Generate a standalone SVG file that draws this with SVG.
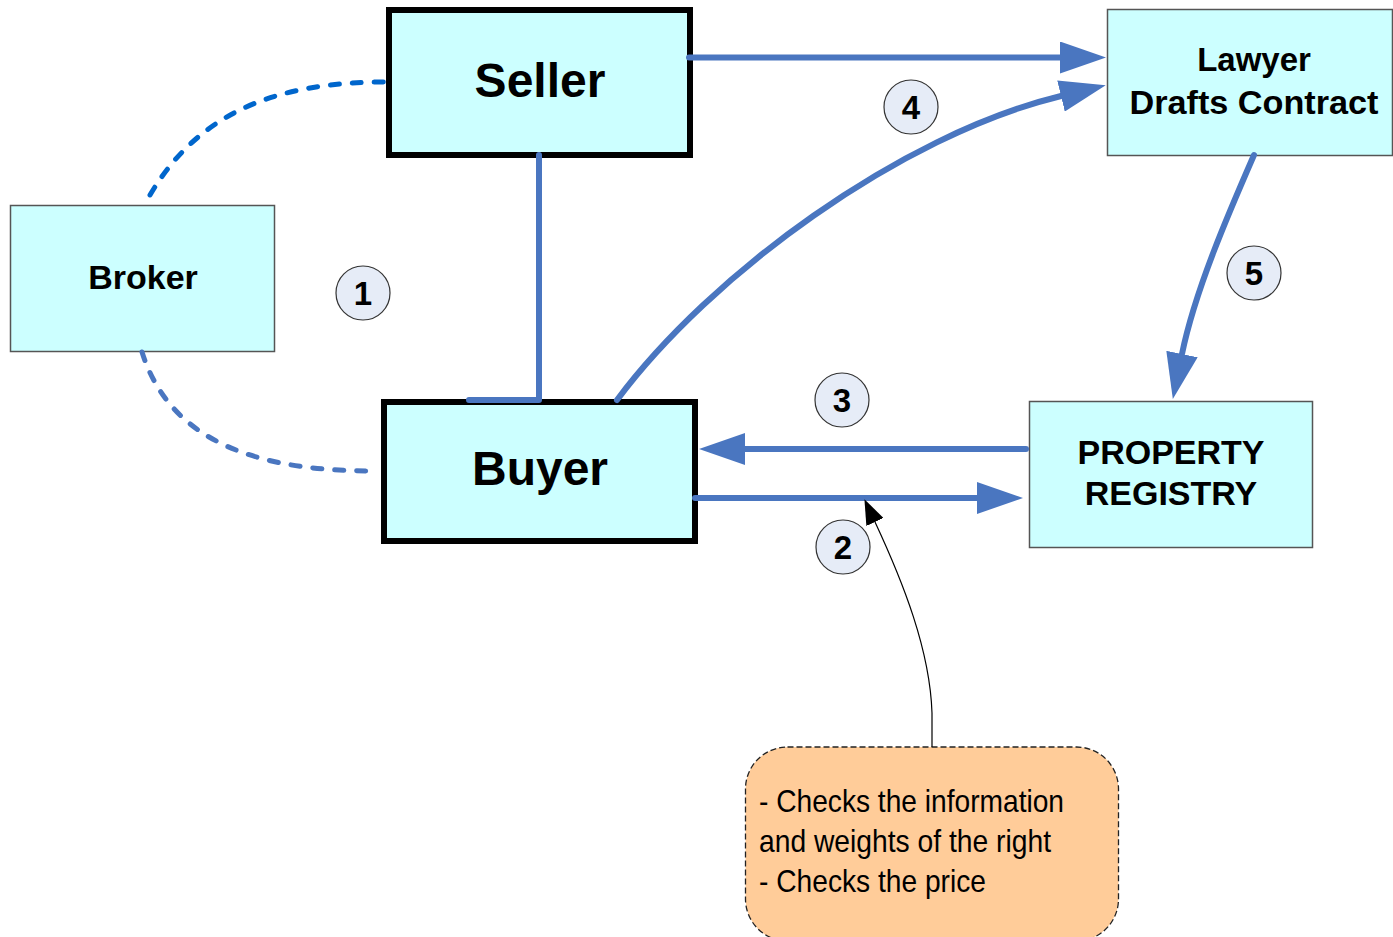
<svg xmlns="http://www.w3.org/2000/svg" width="1393" height="937" viewBox="0 0 1393 937">
<style>
.box{fill:#ccffff;stroke:#000;stroke-width:6}
.thin{fill:#ccffff;stroke:#555;stroke-width:1.5}
.lbl{font-family:"Liberation Sans",Arial,sans-serif;font-weight:bold;fill:#000;text-anchor:middle}
.num{fill:#e6ecf7;stroke:#333;stroke-width:1.2}
.con{fill:none;stroke:#4a76c0;stroke-width:6;stroke-linecap:round;stroke-linejoin:round}
.dot{fill:none;stroke-width:5;stroke-linecap:round;stroke-dasharray:9 13}
.note{font-family:"Liberation Sans",Arial,sans-serif;font-size:32px;fill:#000}
</style>
<defs>
<marker id="ah" markerUnits="userSpaceOnUse" markerWidth="46" markerHeight="32" viewBox="0 0 46 32" refX="0" refY="16" orient="auto">
<path d="M0,0 L46,16 L0,32 z" fill="#4a76c0"/>
</marker>
<marker id="bh" markerUnits="userSpaceOnUse" markerWidth="25" markerHeight="19" viewBox="0 0 25 19" refX="0" refY="9.5" orient="auto">
<path d="M0,0 L25,9.5 L0,19 z" fill="#000"/>
</marker>
</defs>
<rect width="1393" height="937" fill="#fff"/>
<g id="seller">
<rect class="box" x="389" y="10" width="301" height="145"/>
<text class="lbl" x="540" y="97" font-size="48">Seller</text>
</g>
<g id="buyer">
<rect class="box" x="384" y="402" width="311" height="139"/>
<text class="lbl" x="540" y="485" font-size="48">Buyer</text>
</g>
<g id="broker">
<rect class="thin" x="10.5" y="205.5" width="264" height="146"/>
<text class="lbl" x="143" y="289" font-size="34">Broker</text>
</g>
<g id="lawyer">
<rect class="thin" x="1107.5" y="9.5" width="285" height="146"/>
<text class="lbl" x="1254" y="71" font-size="33">Lawyer</text>
<text class="lbl" x="1254" y="114" font-size="33" textLength="249" lengthAdjust="spacingAndGlyphs">Drafts Contract</text>
</g>
<g id="registry">
<rect class="thin" x="1029.5" y="401.5" width="283" height="146"/>
<text class="lbl" x="1171" y="464" font-size="34">PROPERTY</text>
<text class="lbl" x="1171" y="505" font-size="34">REGISTRY</text>
</g>
<g id="note">
<rect x="745.5" y="747" width="373" height="194" rx="42" ry="42" fill="#ffcc99" stroke="#222" stroke-width="1.3" stroke-dasharray="6 3"/>
<text class="note" x="759" y="812" textLength="305" lengthAdjust="spacingAndGlyphs">- Checks the information</text>
<text class="note" x="759" y="852" textLength="292" lengthAdjust="spacingAndGlyphs">and weights of the right</text>
<text class="note" x="759" y="892" textLength="227" lengthAdjust="spacingAndGlyphs">- Checks the price</text>
</g>
<g id="step1"><circle class="num" cx="363" cy="293" r="27"/><text class="lbl" x="363" y="305" font-size="33">1</text></g>
<g id="step2"><circle class="num" cx="843" cy="547" r="27"/><text class="lbl" x="843" y="559" font-size="33">2</text></g>
<g id="step3"><circle class="num" cx="842" cy="400" r="27"/><text class="lbl" x="842" y="412" font-size="33">3</text></g>
<g id="step4"><circle class="num" cx="911" cy="107" r="27"/><text class="lbl" x="911" y="119" font-size="33">4</text></g>
<g id="step5"><circle class="num" cx="1254" cy="273" r="27"/><text class="lbl" x="1254" y="285" font-size="33">5</text></g>
<g id="connectors">
<path class="dot" stroke="#0066cc" d="M150,195 C200,110 280,82 386,82"/>
<path class="dot" stroke="#4a76c0" d="M142,352 C165,425 230,471 372,471"/>
<path class="con" d="M539,155 L539,400 L469,400"/>
<path class="con" d="M689,57.5 L1060,57.5" marker-end="url(#ah)"/>
<path class="con" d="M617,400 C710,275 900,135 1061,96" marker-end="url(#ah)"/>
<path class="con" d="M1254,155 C1230,210 1195,290 1182,354" marker-end="url(#ah)"/>
<path class="con" d="M1026,449 L745,449" marker-end="url(#ah)"/>
<path class="con" d="M695,498 L977,498" marker-end="url(#ah)"/>
<path d="M932,747 L932,713 C930,650 903,582 875,522" fill="none" stroke="#000" stroke-width="1.2" marker-end="url(#bh)"/>
</g>
</svg>
